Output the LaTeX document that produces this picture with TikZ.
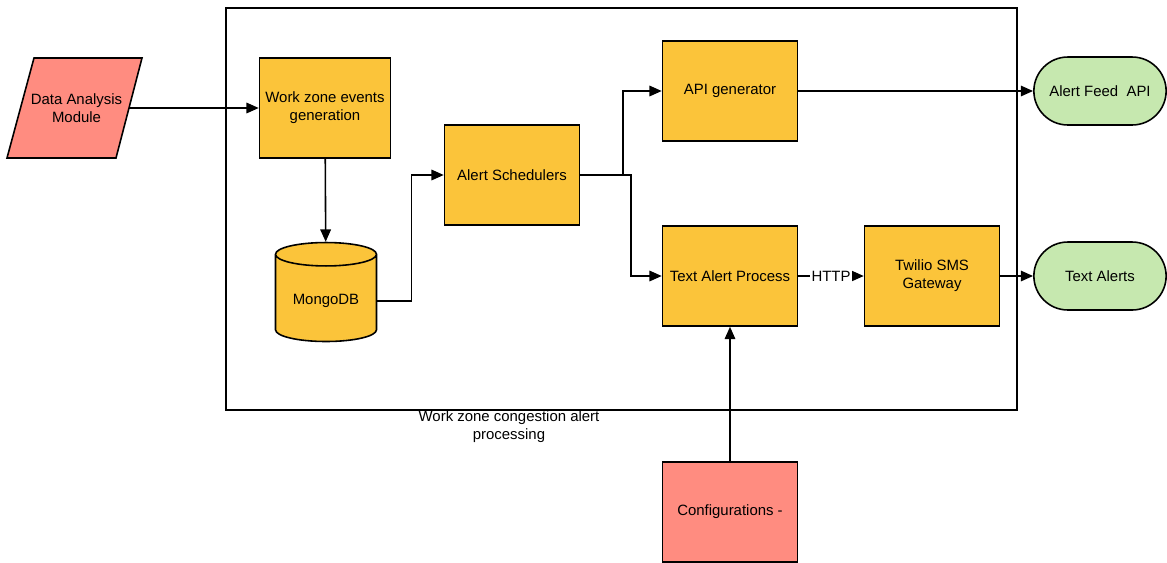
\documentclass[tikz,border=0pt]{standalone}
\usepackage{fontspec}
\setmainfont{Liberation Sans}
\usetikzlibrary{arrows.meta,shapes.geometric,shapes.misc}

\definecolor{boxorange}{HTML}{FBC43A}
\definecolor{boxsalmon}{HTML}{FF8C80}
\definecolor{boxgreen}{HTML}{C6E8AF}

\tikzset{
    every node/.style={font=\fontsize{8.5pt}{10.2pt}\selectfont, align=center},
    proc/.style={draw, line width=0.9pt, fill=boxorange, minimum width=2.62cm, minimum height=2cm},
    term/.style={draw, line width=0.9pt, fill=boxgreen, rounded rectangle, minimum width=2.88cm, minimum height=1.36cm},
    arr/.style={line width=0.9pt, -{Triangle[length=7pt,width=6pt]}}
}

\begin{document}
\begin{tikzpicture}[x=0.02cm, y=-0.02cm]
            \useasboundingbox (0,0) rectangle (1167,562);
            \draw[line width=0.9pt] (226,8) rectangle (1017,410);
            \node (frametitle) at (509,427) {Work zone congestion alert\\processing};

            % input parallelogram, text node sits inside it
            \draw[line width=0.9pt, fill=boxsalmon] (7,158) -- (116,158) -- (142,58) -- (34,58) -- cycle;
            \node[minimum width=2.1cm, minimum height=2cm] (dam) at (76.5,108) {Data Analysis\\Module};

            \node[proc] (wz) at (325,108) {Work zone events\\generation};
            \node[draw, line width=0.9pt, fill=boxorange, cylinder, shape border rotate=90, aspect=0.3,
                minimum width=2.02cm, minimum height=1.98cm] (mongo) at (326,301) {MongoDB};
            \node[proc, minimum width=2.7cm] (sched) at (512,175) {Alert Schedulers};
            \node[proc, minimum width=2.7cm] (api) at (730,91) {API generator};
            \node[proc, minimum width=2.7cm] (tap) at (730,276) {Text Alert Process};
            \node[proc, minimum width=2.7cm] (sms) at (932,276) {Twilio SMS\\Gateway};
            \node[term] (feed) at (1100,91) {Alert Feed~~API};
            \node[term] (texts) at (1100,276) {Text Alerts};
            \node[proc, fill=boxsalmon, minimum width=2.7cm] (conf) at (730,512) {Configurations -};

            \draw[arr] (dam.east) -- (wz);
            \draw[arr] (wz) -- (mongo);
            \draw[arr] (mongo.east) -- ++(34,0) |- (sched.west);
            \draw[arr] (sched.east) -- ++(43,0) |- (api.west);
            \draw[arr] (sched.east) -- ++(51,0) |- (tap.west);
            \draw[arr] (tap) -- node[fill=white, inner sep=1pt] (http) {HTTP} (sms);
            \draw[arr] (api) -- (feed);
            \draw[arr] (sms) -- (texts);
            \draw[arr] (conf) -- (tap);

        \end{tikzpicture}
\end{document}
